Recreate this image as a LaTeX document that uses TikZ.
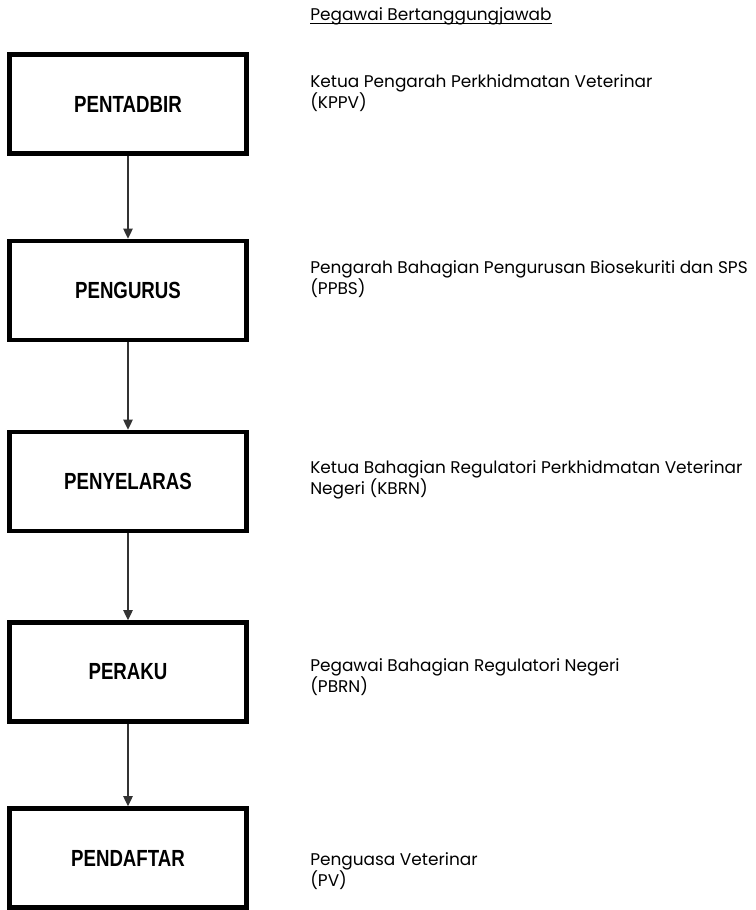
\documentclass[tikz,border=0pt]{standalone}
\usepackage{fontspec}
\setmainfont{Poppins}
\newfontfamily\boxfont[FakeStretch=0.8]{Liberation Sans}
\usetikzlibrary{arrows.meta}

\tikzset{
  stage/.style={draw, line width=3.4pt, minimum width=177.75pt, minimum height=74.25pt,
    inner sep=0pt, font=\boxfont\bfseries\fontsize{17.5}{20}\selectfont},
  officer/.style={anchor=base west, inner sep=0pt, align=left,
    font=\fontsize{12.7}{15.75}\selectfont},
}

\begin{document}
\begin{tikzpicture}[>={Triangle[length=7.5pt,width=7pt]}, x=0.75pt, y=-0.75pt]
\useasboundingbox (0,0) rectangle (756,910);

\node[officer] (hdr) at (310,20) {Pegawai Bertanggungjawab};
\draw[line width=0.8pt] ([yshift=-2.4pt]hdr.base west)--([yshift=-2.4pt]hdr.base east);

\node[stage] (pentadbir) at (128,104) {PENTADBIR};
\node[stage] (pengurus) at (128,290.5) {PENGURUS};
\node[stage] (penyelaras) at (128,481.5) {PENYELARAS};
\node[stage] (peraku) at (128,672) {PERAKU};
\node[stage] (pendaftar) at (128,858) {PENDAFTAR};

\draw[->, line width=1pt, black!80](pentadbir)--(pengurus);
\draw[->, line width=1pt, black!80](pengurus)--(penyelaras);
\draw[->, line width=1pt, black!80](penyelaras)--(peraku);
\draw[->, line width=1pt, black!80](peraku)--(pendaftar);

% base = second line
\node[officer] (kppv) at (310,108) {Ketua Pengarah Perkhidmatan Veterinar\\(KPPV)};
\node[officer] (ppbs) at (310,294) {Pengarah Bahagian Pengurusan Biosekuriti dan SPS\\(PPBS)};
\node[officer] (kbrn) at (310,494) {Ketua Bahagian Regulatori Perkhidmatan Veterinar\\Negeri (KBRN)};
\node[officer] (pbrn) at (310,692) {Pegawai Bahagian Regulatori Negeri\\(PBRN)};
\node[officer] (pv) at (310,886) {Penguasa Veterinar\\(PV)};

\end{tikzpicture}
\end{document}
